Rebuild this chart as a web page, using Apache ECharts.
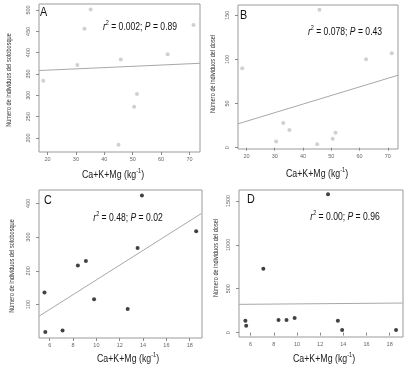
<!DOCTYPE html>
<html>
<head>
<meta charset="utf-8">
<script src="https://cdn.jsdelivr.net/npm/echarts@6/dist/echarts.min.js"></script>
<style>html,body{margin:0;padding:0;background:#fff}#c{width:410px;height:371px}</style>
</head>
<body>
<div id="c"></div>
<script>
// Data
const xAB = [18.5, 30.5, 33.0, 35.2, 45.0, 45.8, 50.5, 51.5, 62.3, 71.4];
const sotobosqueA = [334, 371, 456, 501, 184, 384, 273, 303, 396, 465];
const doselB = [90, 7, 28, 20, 4, 156, 10, 17, 100, 107];
const xCD = [5.55, 5.62, 7.1, 8.41, 9.1, 9.8, 12.68, 13.53, 13.9, 18.55];
const sotobosqueC = [136, 19, 23, 216, 229, 116, 87, 268, 423, 317];
const doselD = [135, 78, 727, 143, 143, 166, 1577, 135, 29, 29];
// Regression line end points
const fitAx = [17.0, 73.7], fitAy = [358, 375];
const fitBx = [17.0, 73.6], fitBy = [27, 82];
const fitCx = [5.1, 19.0], fitCy = [66, 370];
const fitDx = [5.0, 19.1], fitDy = [322, 337];
// Tick labels
const ticksXAB = [20, 30, 40, 50, 60, 70];
const ticksXCD = [6, 8, 10, 12, 14, 16, 18];
const ticksYA = [200, 250, 300, 350, 400, 450, 500];
const ticksYB = [0, 50, 100, 150];
const ticksYC = [100, 200, 300, 400];
const ticksYD = [0, 500, 1000, 1500];
const panelLetters = ['A', 'B', 'C', 'D'];
const stats = [['0.002', '0.89'], ['0.078', '0.43'], ['0.48', '0.02'], ['0.00', '0.96']];
const yNames = ['Número de individuos del sotobosque', 'Número de individuos del dosel',
                'Número de individuos del sotobosque', 'Número de individuos del dosel'];

const FONT = "'Liberation Sans',Arial,sans-serif";
const grids = [
  {left: 39, top: 4, width: 161, height: 148},
  {left: 238, top: 5, width: 160, height: 144},
  {left: 39, top: 190, width: 163, height: 148},
  {left: 239, top: 190, width: 164, height: 147}
];
const xRanges = [[17, 73.7], [17, 73.6], [5.08, 19.05], [5.0, 19.15]];
const yRanges = [[167, 514], [-1.5, 161.5], [1, 439.5], [-50, 1625]];
const xTicks = [ticksXAB, ticksXAB, ticksXCD, ticksXCD];
const yTicks = [ticksYA, ticksYB, ticksYC, ticksYD];

const chart = echarts.init(document.getElementById('c'), null, {renderer: 'canvas'});
const tickStyle = {lineStyle: {color: '#8a8a8a', width: 1}, length: 3};
const option = {
  animation: false,
  backgroundColor: '#fff',
  grid: grids.map(g => Object.assign({show: true, borderColor: '#9a9a9a', borderWidth: 1, backgroundColor: 'transparent'}, g)),
  xAxis: grids.map((g, i) => ({
    type: 'value', gridIndex: i, min: xRanges[i][0], max: xRanges[i][1],
    splitLine: {show: false}, axisLine: {show: false},
    axisTick: Object.assign({show: true, customValues: xTicks[i]}, tickStyle),
    axisLabel: {customValues: xTicks[i], fontSize: 5.5, color: '#666', margin: 4, fontFamily: FONT,
      formatter: v => String(v)}
  })),
  yAxis: grids.map((g, i) => ({
    type: 'value', gridIndex: i, min: yRanges[i][0], max: yRanges[i][1],
    splitLine: {show: false}, axisLine: {show: false},
    axisTick: Object.assign({show: true, customValues: yTicks[i]}, tickStyle),
    axisLabel: {customValues: yTicks[i], fontSize: 5.5, color: '#666', margin: 8, rotate: 90, fontFamily: FONT,
      formatter: v => String(v)}
  })),
  series: [
    {type: 'scatter', xAxisIndex: 0, yAxisIndex: 0, symbolSize: 4, itemStyle: {color: '#c4c4c4'},
     data: xAB.map((x, k) => [x, sotobosqueA[k]])},
    {type: 'scatter', xAxisIndex: 1, yAxisIndex: 1, symbolSize: 4, itemStyle: {color: '#c4c4c4'},
     data: xAB.map((x, k) => [x, doselB[k]])},
    {type: 'scatter', xAxisIndex: 2, yAxisIndex: 2, symbolSize: 4, itemStyle: {color: '#111'},
     data: xCD.map((x, k) => [x, sotobosqueC[k]])},
    {type: 'scatter', xAxisIndex: 3, yAxisIndex: 3, symbolSize: 4, itemStyle: {color: '#111'},
     data: xCD.map((x, k) => [x, doselD[k]])},
    {type: 'line', xAxisIndex: 0, yAxisIndex: 0, symbol: 'none', lineStyle: {color: '#a8a8a8', width: 1},
     data: fitAx.map((x, k) => [x, fitAy[k]])},
    {type: 'line', xAxisIndex: 1, yAxisIndex: 1, symbol: 'none', lineStyle: {color: '#a8a8a8', width: 1},
     data: fitBx.map((x, k) => [x, fitBy[k]])},
    {type: 'line', xAxisIndex: 2, yAxisIndex: 2, symbol: 'none', lineStyle: {color: '#a8a8a8', width: 1},
     data: fitCx.map((x, k) => [x, fitCy[k]])},
    {type: 'line', xAxisIndex: 3, yAxisIndex: 3, symbol: 'none', lineStyle: {color: '#a8a8a8', width: 1},
     data: fitDx.map((x, k) => [x, fitDy[k]])}
  ],
  graphic: []
};
const letterPos = [[40, 13], [240, 16], [44, 201], [247, 200]];
const statPos = [[140, 26], [345, 31], [128, 217], [345, 216]];
const xNamePos = [[113, 174], [317, 173], [128, 358], [324, 358]];
const yNamePos = [[9, 80], [213, 74], [12, 266], [216, 258]];
const richStat = {
  i: {fontSize: 11, fontStyle: 'italic', fontFamily: FONT, fill: '#111', verticalAlign: 'bottom'},
  n: {fontSize: 11, fontFamily: FONT, fill: '#111', verticalAlign: 'bottom'},
  sup: {fontSize: 7, fontFamily: FONT, fill: '#111', verticalAlign: 'bottom', padding: [0, 0, 5, 0]}
};
const richName = {
  n: {fontSize: 11, fontFamily: FONT, fill: '#222', verticalAlign: 'bottom'},
  sup: {fontSize: 7, fontFamily: FONT, fill: '#222', verticalAlign: 'bottom', padding: [0, 0, 5, 0]}
};
panelLetters.forEach((L, i) => {
  option.graphic.push({type: 'text', x: letterPos[i][0], y: letterPos[i][1], scaleX: 0.9,
    style: {text: L, fontSize: 12, fontFamily: FONT, fill: '#111', verticalAlign: 'middle'}});
  option.graphic.push({type: 'text', x: statPos[i][0], y: statPos[i][1], scaleX: 0.78,
    style: {text: '{i|r}{sup|2}{n| = ' + stats[i][0] + '; }{i|P}{n| = ' + stats[i][1] + '}',
      rich: richStat, align: 'center', verticalAlign: 'middle'}});
  option.graphic.push({type: 'text', x: xNamePos[i][0], y: xNamePos[i][1], scaleX: 0.8,
    style: {text: '{n|Ca+K+Mg (kg}{sup|-1}{n|)}', rich: richName, align: 'center', verticalAlign: 'middle'}});
  option.graphic.push({type: 'text', x: yNamePos[i][0], y: yNamePos[i][1], rotation: Math.PI / 2, scaleX: 0.8,
    style: {text: yNames[i], fontSize: 7, fontFamily: FONT, fill: '#333', align: 'center', verticalAlign: 'middle'}});
});
chart.setOption(option);
</script>
</body>
</html>
